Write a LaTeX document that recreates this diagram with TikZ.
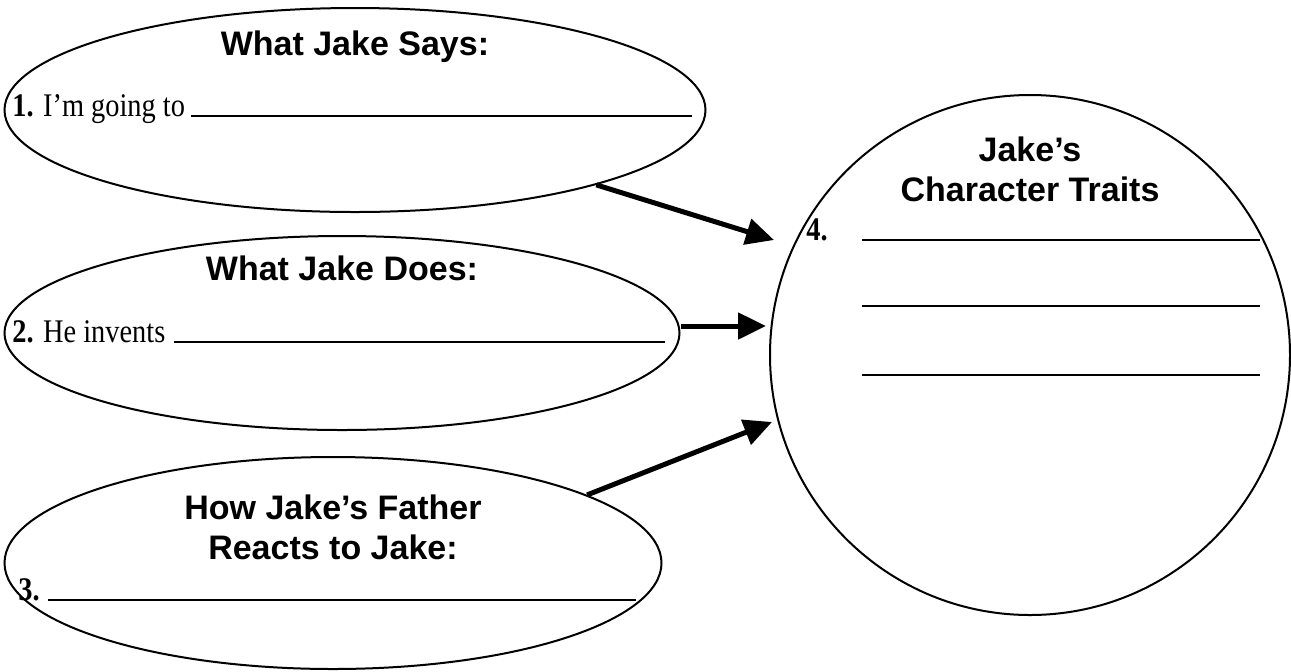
\documentclass[tikz,border=0pt]{standalone}
\usepackage{fontspec}
\setmainfont{Liberation Serif}[FakeStretch=0.86]
\setsansfont{Liberation Sans}
\usetikzlibrary{shapes.geometric,arrows.meta}
\tikzset{
  bubble/.style={draw,ellipse,line width=1pt,inner sep=0pt},
  head/.style={font=\sffamily\bfseries\fontsize{17}{20}\selectfont,align=center,inner sep=0pt},
  entry/.style={font=\rmfamily\fontsize{16.5}{18}\selectfont,anchor=base west,inner sep=0pt},
  blank/.style={line width=0.7pt},
  feed/.style={line width=2.5pt,-{Triangle[length=14pt,width=13pt]}}
}

\begin{document}
\begin{tikzpicture}[x=0.5pt,y=-0.5pt]
  \useasboundingbox (0,0) rectangle (1291,671);

  % the three bubbles on the left
  \node[bubble,minimum width=350.5pt,minimum height=102pt] (says) at (355,110) {};
  \node[head] at (355,47) {What Jake Says:};
  \node[entry] (n1) at (12,116) {\textbf{1.} I'm going to};
  \draw[blank] ([xshift=3pt]n1.base east) -- (692,116);

  \node[bubble,minimum width=337.5pt,minimum height=97pt] (does) at (342,333) {};
  \node[head] at (342,268) {What Jake Does:};
  \node[entry] (n2) at (12,342) {\textbf{2.} He invents};
  \draw[blank] ([xshift=4pt]n2.base east) -- (665,342);

  \node[bubble,minimum width=328.5pt,minimum height=106pt] (father) at (333,563) {};
  \node[head] at (333,527) {How Jake's Father\\Reacts to Jake:};
  \node[entry] (n3) at (18,600) {\textbf{3.}};
  \draw[blank] ([xshift=4pt]n3.base east) -- (636,600);

  % the traits circle
  \node[bubble,circle,minimum size=260pt] (traits) at (1030,355) {};
  \node[head] at (1030,169) {Jake's\\Character Traits};
  \node[entry] (n4) at (806,240) {\textbf{4.}};
  \draw[blank] (862,240) -- (1260,240);
  \draw[blank] (862,306) -- (1260,306);
  \draw[blank] (862,375) -- (1260,375);

  % arrows
  \coordinate (t1) at (774,240);
  \coordinate (t2) at (766,326);
  \coordinate (t3) at (772,422);
  \draw[feed] (says) -- (t1);
  \draw[feed] (does.east |- t2) -- (t2);
  \draw[feed] (father.15) -- (t3);
\end{tikzpicture}
\end{document}
